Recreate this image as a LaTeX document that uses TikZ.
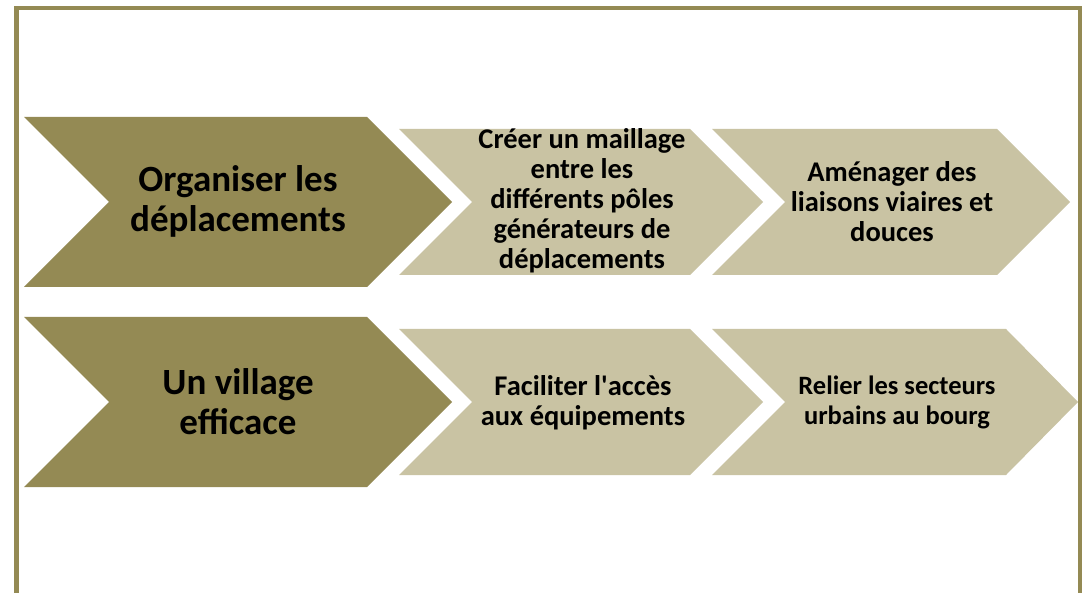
\documentclass[tikz,border=0pt]{standalone}
\usepackage{fontspec}
\setmainfont{Carlito}
\definecolor{olivedark}{HTML}{948A54}
\definecolor{olivelight}{HTML}{C9C3A3}
\tikzset{
  framestyle/.style={draw=olivedark, line width=4.5pt},
  darkchev/.style={fill=olivedark},
  lightchev/.style={fill=olivelight},
  bigtext/.style={align=center, font=\bfseries\fontsize{37}{40}\selectfont, text=black, inner sep=0pt},
  midtext/.style={align=center, font=\bfseries\fontsize{28.5}{30}\selectfont, text=black, inner sep=0pt},
  smalltext/.style={align=center, font=\bfseries\fontsize{26.5}{30}\selectfont, text=black, inner sep=0pt}
}
\begin{document}
\begin{tikzpicture}[x=1pt, y=-1pt]
\useasboundingbox (0,0) rectangle (1082,593);
\clip (0,0) rectangle (1082,593);
% frame
\draw[framestyle] (16.5,620) -- (16.5,8) -- (1079.8,8) -- (1079.8,620);
% row 1
\fill[darkchev] (24,117) -- (367,117) -- (452,202) -- (367,287) -- (24,287) -- (109,202) -- cycle;
\fill[lightchev] (399,129) -- (690,129) -- (763,202) -- (690,275) -- (399,275) -- (472,202) -- cycle;
\fill[lightchev] (712,129) -- (997,129) -- (1070,202) -- (997,275) -- (712,275) -- (785,202) -- cycle;
% row 2
\fill[darkchev] (24,317) -- (367,317) -- (452,402) -- (367,487) -- (24,487) -- (109,402) -- cycle;
\fill[lightchev] (399,329) -- (690,329) -- (763,402) -- (690,475) -- (399,475) -- (472,402) -- cycle;
\fill[lightchev] (712,329) -- (1006,329) -- (1078,402) -- (1006,475) -- (712,475) -- (785,402) -- cycle;
% texts
\node[bigtext] (t11) at (238,201) {Organiser les\\déplacements};
\node[midtext] (t12) at (582,201) {Créer un maillage\\entre les\\différents pôles\\générateurs de\\déplacements};
\node[midtext] (t13) at (892,202) {Aménager des\\liaisons viaires et\\douces};
\node[bigtext] (t21) at (238,402) {Un village\\efficace};
\node[midtext] (t22) at (583,403) {Faciliter l\textquotesingle accès\\aux équipements};
\node[smalltext] (t23) at (897,402) {Relier les secteurs\\urbains au bourg};
\end{tikzpicture}
\end{document}
